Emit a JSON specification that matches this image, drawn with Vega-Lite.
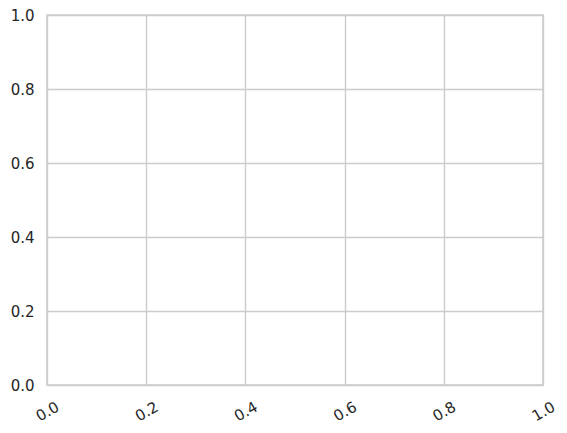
{
  "$schema": "https://vega.github.io/schema/vega-lite/v6.json",
  "width": 496,
  "height": 370,
  "autosize": {"type": "none"},
  "padding": {"left": 47, "top": 15, "right": 24, "bottom": 48},
  "background": "white",
  "data": {"values": []},
  "mark": {"type": "point"},
  "encoding": {
    "x": {
      "field": "x",
      "type": "quantitative",
      "scale": {"domain": [0, 1], "nice": false, "zero": false},
      "axis": {
        "title": null,
        "values": [0, 0.2, 0.4, 0.6, 0.8, 1.0],
        "format": ".1f",
        "labelAngle": -30,
        "labelAlign": "center",
        "labelBaseline": "middle",
        "labelPadding": 26,
        "labelFlush": false,
        "labelOverlap": false
      }
    },
    "y": {
      "field": "y",
      "type": "quantitative",
      "scale": {"domain": [0, 1], "nice": false, "zero": false},
      "axis": {
        "title": null,
        "values": [0, 0.2, 0.4, 0.6, 0.8, 1.0],
        "format": ".1f",
        "labelPadding": 13,
        "labelFlush": false,
        "labelOverlap": false
      }
    }
  },
  "config": {
    "view": {"stroke": "#cccccc", "strokeWidth": 1.5},
    "axis": {
      "domain": false,
      "ticks": false,
      "grid": true,
      "gridColor": "#cccccc",
      "gridWidth": 1.4,
      "gridOpacity": 1,
      "labelFont": "DejaVu Sans",
      "labelFontSize": 15,
      "labelColor": "#262626"
    }
  }
}
